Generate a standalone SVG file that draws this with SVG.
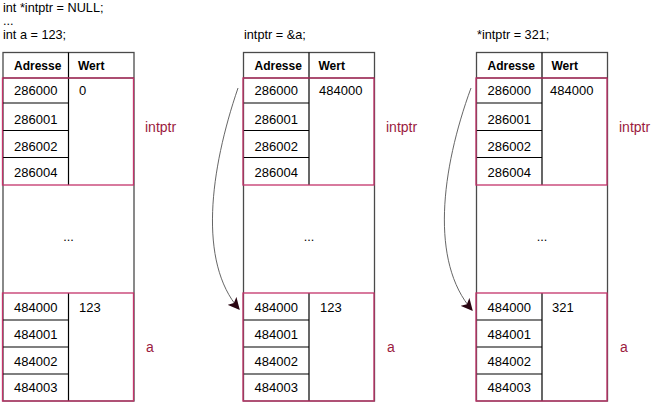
<svg xmlns="http://www.w3.org/2000/svg" width="652" height="403" viewBox="0 0 652 403">
<defs>
<style>
.code{font-family:"Liberation Sans",Arial,sans-serif;font-size:12.7px;fill:#000}
.hd{font-family:"Liberation Sans",Arial,sans-serif;font-size:12px;font-weight:bold;fill:#000}
.cell{font-family:"Liberation Sans",Arial,sans-serif;font-size:13px;fill:#000}
.lbl{font-family:"Liberation Sans",Arial,sans-serif;font-size:14px;fill:#9b1b40}
.frame{fill:#fff;stroke:#4a4a4a;stroke-width:1.3}
.pink{fill:none;stroke:#c4336a;stroke-width:1.3}
.ln{stroke:#000;stroke-width:1.2;fill:none}
.arr{fill:none;stroke:#555;stroke-width:0.9}
</style>
<marker id="ah" viewBox="0 0 10 10" refX="9" refY="5" markerWidth="12" markerHeight="12" markerUnits="userSpaceOnUse" orient="auto">
<path d="M0,0 L10,5 L0,10 L2.5,5 Z" fill="#2a0612"/>
</marker>
<g id="table">
<rect class="frame" x="0" y="52.5" width="131" height="348.5"/>
<line class="ln" x1="0" y1="78" x2="131" y2="78"/>
<line class="ln" x1="65.5" y1="52.5" x2="65.5" y2="185"/>
<line class="ln" x1="65.5" y1="293" x2="65.5" y2="401"/>
<line class="ln" x1="0" y1="103" x2="65.5" y2="103"/>
<line class="ln" x1="0" y1="130.5" x2="65.5" y2="130.5"/>
<line class="ln" x1="0" y1="157.5" x2="65.5" y2="157.5"/>
<line class="ln" x1="0" y1="320" x2="65.5" y2="320"/>
<line class="ln" x1="0" y1="347" x2="65.5" y2="347"/>
<line class="ln" x1="0" y1="374" x2="65.5" y2="374"/>
<rect class="pink" x="-0.5" y="78" width="131" height="107"/>
<rect class="pink" x="-0.5" y="293" width="131" height="108"/>
<text class="hd" x="11" y="70">Adresse</text>
<text class="hd" x="75" y="70">Wert</text>
<text class="cell" x="11" y="95">286000</text>
<text class="cell" x="11" y="124">286001</text>
<text class="cell" x="11" y="151">286002</text>
<text class="cell" x="11" y="177">286004</text>
<text class="code" x="65.5" y="241" text-anchor="middle">...</text>
<text class="cell" x="11" y="312">484000</text>
<text class="cell" x="11" y="339">484001</text>
<text class="cell" x="11" y="366">484002</text>
<text class="cell" x="11" y="392">484003</text>
</g>
</defs>
<g id="code1">
<text class="code" x="3" y="12">int *intptr = NULL;</text>
<text class="code" x="3" y="25">...</text>
<text class="code" x="3" y="39">int a = 123;</text>
</g>
<g id="memory1">
<use href="#table" x="3" y="0"/>
<text class="cell" x="79" y="95">0</text>
<text class="cell" x="79" y="312">123</text>
<text class="lbl" x="145" y="132">intptr</text>
<text class="lbl" x="146" y="352">a</text>
</g>
<g id="code2">
<text class="code" x="244" y="39">intptr = &amp;a;</text>
</g>
<g id="memory2">
<use href="#table" x="243.5" y="0"/>
<text class="cell" x="319" y="95">484000</text>
<text class="cell" x="320" y="312">123</text>
<text class="lbl" x="386" y="132">intptr</text>
<text class="lbl" x="387" y="352">a</text>
</g>
<g id="code3">
<text class="code" x="477" y="39">*intptr = 321;</text>
</g>
<g id="memory3">
<use href="#table" x="476.5" y="0"/>
<text class="cell" x="550" y="95">484000</text>
<text class="cell" x="552" y="312">321</text>
<text class="lbl" x="619" y="132">intptr</text>
<text class="lbl" x="620" y="352">a</text>
</g>
<g id="connectors">
<path class="arr" d="M238,88 C210,170 198,262 239,309" marker-end="url(#ah)"/>
<path class="arr" d="M471,88 C441,170 430,262 472,310" marker-end="url(#ah)"/>
</g>
</svg>
